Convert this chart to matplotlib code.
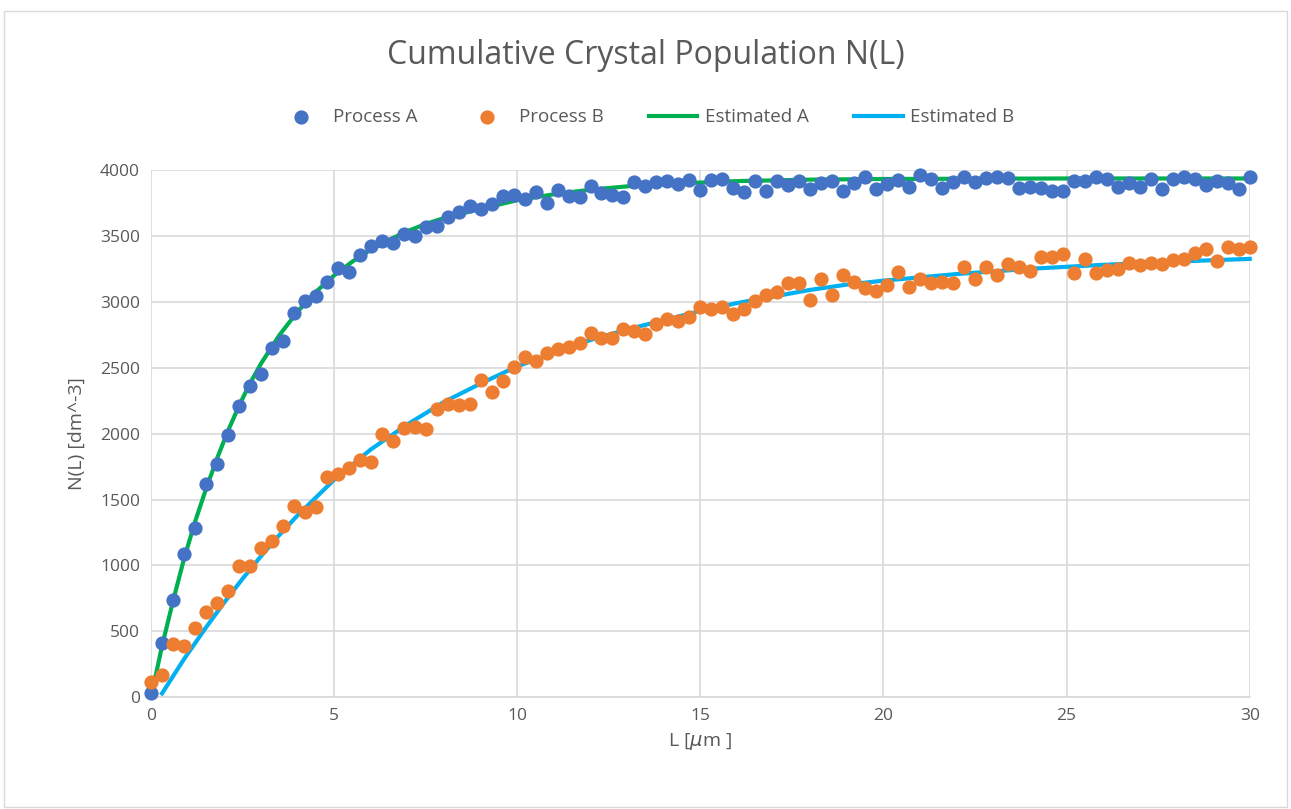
import numpy as np
import matplotlib.pyplot as plt

# measured points, L step 0.3 um
L_pts = np.round(np.arange(101) * 0.3, 1)

proc_a = [35, 411, 735, 1085, 1282, 1616, 1770, 1990, 2208, 2359,
          2450, 2646, 2704, 2911, 3002, 3047, 3150, 3256, 3224, 3357,
          3426, 3458, 3442, 3511, 3495, 3570, 3575, 3644, 3681, 3723,
          3702, 3739, 3800, 3812, 3780, 3833, 3750, 3848, 3802, 3795,
          3878, 3825, 3810, 3795, 3909, 3878, 3909, 3917, 3894, 3924,
          3848, 3924, 3932, 3863, 3833, 3917, 3840, 3917, 3886, 3917,
          3856, 3901, 3917, 3840, 3901, 3947, 3856, 3894, 3924, 3871,
          3962, 3932, 3863, 3909, 3947, 3909, 3939, 3947, 3940, 3863,
          3871, 3863, 3840, 3840, 3917, 3917, 3947, 3932, 3871, 3901,
          3871, 3932, 3856, 3932, 3947, 3932, 3886, 3917, 3901, 3856,
          3947]

proc_b = [119, 172, 401, 390, 523, 645, 717, 804, 995, 995,
          1133, 1186, 1298, 1452, 1409, 1446, 1669, 1696, 1738, 1802,
          1786, 1998, 1945, 2041, 2051, 2036, 2184, 2221, 2216, 2227,
          2407, 2317, 2400, 2506, 2581, 2550, 2611, 2641, 2656, 2687,
          2763, 2725, 2725, 2793, 2778, 2755, 2831, 2869, 2854, 2884,
          2960, 2945, 2960, 2907, 2945, 3006, 3051, 3074, 3142, 3142,
          3013, 3173, 3051, 3203, 3150, 3104, 3082, 3127, 3226, 3112,
          3173, 3142, 3150, 3142, 3264, 3173, 3264, 3203, 3287, 3264,
          3233, 3340, 3340, 3362, 3218, 3325, 3218, 3241, 3248, 3294,
          3279, 3294, 3287, 3317, 3325, 3370, 3400, 3309, 3415, 3400,
          3415]

# fitted curves
L_est_a = [0, 0.3, 0.6, 0.9, 1.2, 1.5, 1.8, 2.1, 2.4, 2.7, 3.0, 3.5, 4, 4.5,
           5, 5.5, 6, 6.5, 7, 7.5, 8, 9, 10, 11, 12, 13, 14, 16, 18, 20, 25, 30]
est_a = [0, 390, 730, 1050, 1330, 1580, 1810, 2020, 2210, 2380, 2530, 2745,
         2925, 3075, 3200, 3305, 3395, 3470, 3535, 3590, 3635, 3705, 3770,
         3815, 3850, 3875, 3893, 3915, 3926, 3931, 3935, 3935]

L_est_b = [0.3, 0.6, 0.9, 1.2, 1.5, 2.0, 2.5, 3, 3.5, 4, 5, 6, 7, 8, 9, 10,
           11, 12, 13, 14, 15, 16, 17, 18, 19, 20, 22, 24, 26, 28, 30]
est_b = [30, 160, 290, 410, 530, 720, 900, 1070, 1230, 1380, 1650, 1880,
         2070, 2240, 2380, 2510, 2610, 2710, 2790, 2860, 2930, 2990, 3040,
         3090, 3130, 3160, 3210, 3250, 3280, 3305, 3325]

plt.rcParams['font.family'] = ['Open Sans', 'DejaVu Sans']
txt = '#595959'

fig = plt.figure(figsize=(12.91, 8.09), dpi=100)
ax = fig.add_axes([0.117, 0.138, 0.851, 0.652])

ax.plot(L_est_a, est_a, color='#00B050', lw=3, zorder=2, label='Estimated A', clip_on=False)
ax.plot(L_est_b, est_b, color='#00B0F0', lw=3, zorder=2, label='Estimated B', clip_on=False)
ax.scatter(L_pts, proc_a, s=105, color='#4472C4', zorder=3, label='Process A',
           linewidths=0, clip_on=False)
ax.scatter(L_pts, proc_b, s=105, color='#ED7D31', zorder=3, label='Process B',
           linewidths=0, clip_on=False)

ax.set_xlim(0, 30)
ax.set_ylim(0, 4000)
ax.set_xticks(np.arange(0, 31, 5))
ax.set_yticks(np.arange(0, 4001, 500))
ax.grid(True, color='#D9D9D9', lw=1.2)
ax.set_axisbelow(True)
for s in ['top', 'right', 'left']:
    ax.spines[s].set_visible(False)
ax.spines['bottom'].set_color('#D9D9D9')
ax.spines['bottom'].set_linewidth(1.2)
ax.tick_params(length=0, labelsize=12.5, labelcolor=txt, pad=8)

ax.set_xlabel('L [$\\mu$m ]', fontsize=14, color=txt, labelpad=5)
ax.set_ylabel('N(L) [dm^-3]', fontsize=14, color=txt, labelpad=10)

fig.text(0.5, 0.931, 'Cumulative Crystal Population N(L)', ha='center', va='center',
         fontsize=23, color=txt)

h, l = ax.get_legend_handles_labels()
order = [2, 3, 0, 1]
fig.legend([h[i] for i in order], [l[i] for i in order], loc='center',
           bbox_to_anchor=(0.5, 0.855), ncol=4, frameon=False, fontsize=13.5,
           labelcolor=txt, handlelength=2.6, columnspacing=2.4, handletextpad=0.4)

# chart border
fig.patches.append(plt.Rectangle((0.003, 0.003), 0.994, 0.984, transform=fig.transFigure,
                                 fill=False, edgecolor='#D9D9D9', lw=1))

fig.savefig('out.png', dpi=100)
